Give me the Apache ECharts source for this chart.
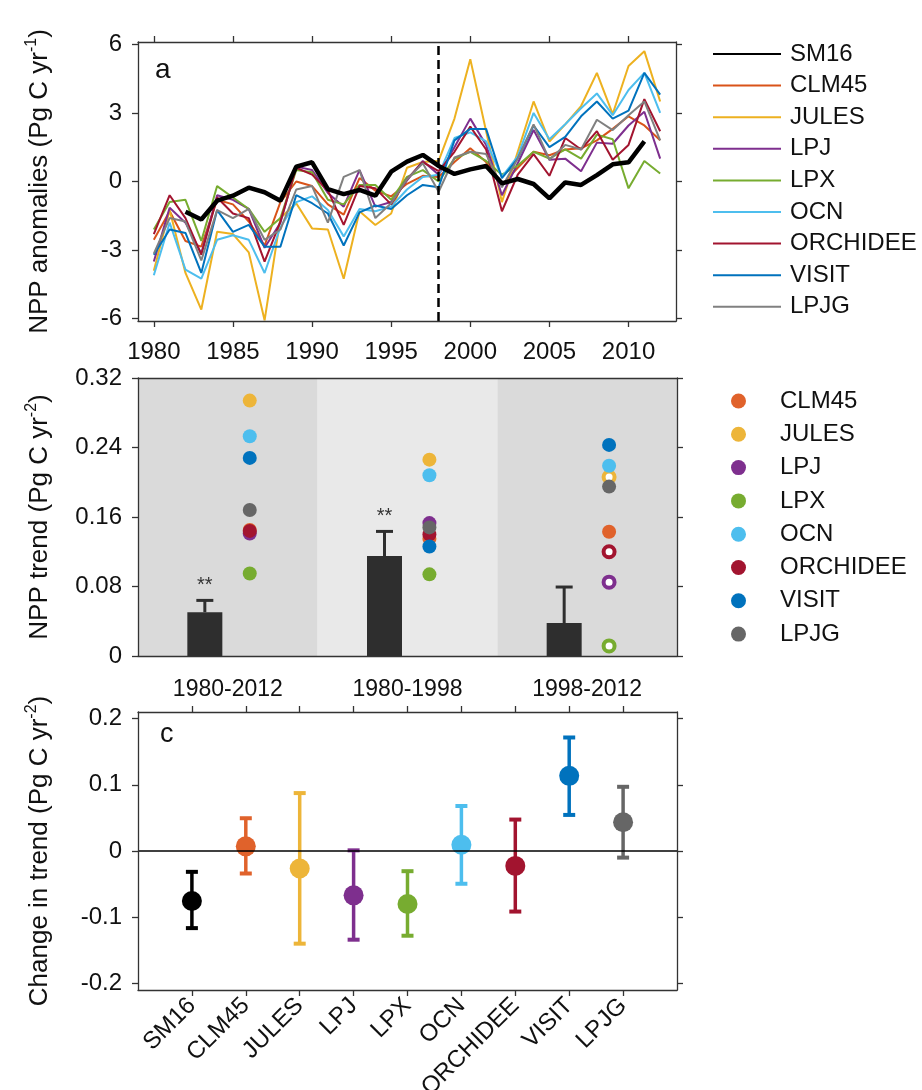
<!DOCTYPE html>
<html><head><meta charset="utf-8">
<script src="https://cdn.jsdelivr.net/npm/echarts@6/dist/echarts.min.js"></script>
<style>html,body{margin:0;padding:0;background:#fff}#c{width:922px;height:1090px}</style>
</head><body><div id="c"></div><script>
const FONT = '"Liberation Sans", Arial, sans-serif';

// ---------- Panel a data ----------
const years = [1980,1981,1982,1983,1984,1985,1986,1987,1988,1989,1990,1991,1992,1993,1994,1995,1996,1997,1998,1999,2000,2001,2002,2003,2004,2005,2006,2007,2008,2009,2010,2011,2012];
const smYears = [1982,1983,1984,1985,1986,1987,1988,1989,1990,1991,1992,1993,1994,1995,1996,1997,1998,1999,2000,2001,2002,2003,2004,2005,2006,2007,2008,2009,2010,2011];
const SM16 = [-1.32,-1.66,-0.84,-0.62,-0.27,-0.47,-0.84,0.65,0.84,-0.33,-0.55,-0.37,-0.62,0.43,0.87,1.16,0.68,0.33,0.53,0.68,-0.08,0.11,-0.11,-0.74,-0.04,-0.15,0.28,0.75,0.84,1.75];
const CLM45 = [-2.55,-1.3,-2.6,-2.85,-0.8,-1.0,-1.75,-2.8,-0.9,0.0,-0.2,-1.0,-1.45,0.15,-0.4,-0.65,-0.1,0.25,0.2,0.85,1.45,0.85,-0.15,0.6,1.3,1.15,1.4,1.45,1.8,2.3,2.85,2.45,1.8];
const JULES = [-3.9,-1.25,-4.0,-5.6,-2.2,-2.3,-3.1,-6.07,-1.6,-0.95,-2.05,-2.1,-4.25,-1.3,-1.9,-1.4,0.6,0.85,0.9,2.75,5.35,2.2,-0.9,1.3,3.5,1.75,2.5,3.3,4.75,2.95,5.05,5.7,3.5];
const LPJ = [-3.5,-1.15,-1.8,-3.15,-0.6,-0.8,-1.2,-2.9,-1.8,0.65,0.5,-0.5,-1.1,0.5,-1.1,-0.9,0.05,0.9,0.3,1.5,2.75,1.6,-0.6,0.8,2.25,0.95,1.0,0.45,1.7,1.65,2.45,3.05,1.0];
const LPX = [-2.1,-0.9,-0.8,-2.6,-0.2,-0.7,-1.2,-2.2,-1.6,0.5,0.4,-0.8,-1.0,-0.15,-0.15,-0.8,0.2,0.5,0.0,1.0,1.3,0.9,0.3,0.7,1.3,1.0,1.4,1.0,2.05,1.85,-0.3,0.9,0.35];
const OCN = [-4.1,-1.8,-3.85,-4.25,-2.55,-2.35,-2.55,-4.0,-2.0,-0.9,-0.65,-1.25,-2.4,-1.2,-1.3,-1.1,-0.35,0.2,0.3,1.9,2.15,1.75,0.2,1.1,3.0,1.85,2.5,3.2,3.85,2.9,4.0,4.75,3.0];
const ORCHIDEE = [-2.3,-0.6,-1.6,-3.2,-0.7,-1.4,-1.6,-3.5,-1.75,0.6,0.3,-0.4,-1.9,-0.2,-0.3,-1.0,0.1,0.85,0.45,1.3,2.4,1.4,-1.3,0.3,1.2,0.25,1.9,1.4,2.2,0.95,1.6,3.6,2.2];
const VISIT = [-3.2,-2.1,-2.25,-4.0,-1.25,-2.2,-1.9,-2.85,-2.85,-0.6,-0.95,-1.4,-2.8,-1.35,-1.05,-1.2,-0.6,-0.15,-0.25,1.8,2.3,2.3,0.15,1.0,2.45,1.5,1.95,2.85,3.5,2.75,3.1,4.75,3.8];
const LPJG = [-3.15,-1.6,-1.75,-3.45,-1.25,-1.6,-1.2,-2.55,-2.1,-0.35,-0.2,-1.8,0.2,0.5,-1.6,-0.95,0.1,0.8,-0.45,1.05,1.3,1.2,-0.25,1.0,2.5,0.95,1.6,1.4,2.7,2.25,2.9,3.5,1.8];
const xTicksA = [1980,1985,1990,1995,2000,2005,2010];
const yTicksA = [-6,-3,0,3,6];
const breakYear = 1998;

const modelNames = ['CLM45','JULES','LPJ','LPX','OCN','ORCHIDEE','VISIT','LPJG'];
const modelSeries = {CLM45, JULES, LPJ, LPX, OCN, ORCHIDEE, VISIT, LPJG};

// ---------- Panel b data ----------
const periods = ['1980-2012','1980-1998','1998-2012'];
const obsTrend = [0.0505, 0.115, 0.038];
const obsTrendUpper = [0.064, 0.1434, 0.0794];
const obsSig = ['**','**',''];
const trendCLM45 = [0.145, 0.135, 0.143];
const trendJULES = [0.294, 0.226, 0.206];
const trendLPJ = [0.141, 0.153, 0.085];
const trendLPX = [0.095, 0.094, 0.0116];
const trendOCN = [0.253, 0.208, 0.219];
const trendORCHIDEE = [0.144, 0.140, 0.120];
const trendVISIT = [0.228, 0.126, 0.243];
const trendLPJG = [0.168, 0.148, 0.195];
const sigCLM45 = [1,1,1], sigJULES = [1,1,0], sigLPJ = [1,1,0], sigLPX = [1,1,0],
      sigOCN = [1,1,1], sigORCHIDEE = [1,1,0], sigVISIT = [1,1,1], sigLPJG = [1,1,1];
const modelTrends = {CLM45:trendCLM45, JULES:trendJULES, LPJ:trendLPJ, LPX:trendLPX, OCN:trendOCN, ORCHIDEE:trendORCHIDEE, VISIT:trendVISIT, LPJG:trendLPJG};
const modelSigs = {CLM45:sigCLM45, JULES:sigJULES, LPJ:sigLPJ, LPX:sigLPX, OCN:sigOCN, ORCHIDEE:sigORCHIDEE, VISIT:sigVISIT, LPJG:sigLPJG};
const yTicksB = [0, 0.08, 0.16, 0.24, 0.32];

// ---------- Panel c data ----------
const changeCats = ['SM16','CLM45','JULES','LPJ','LPX','OCN','ORCHIDEE','VISIT','LPJG'];
const changeMean = [-0.0755, 0.007, -0.0265, -0.067, -0.080, 0.0095, -0.0225, 0.1135, 0.0435];
const changeHigh = [-0.0315, 0.0495, 0.0875, 0.001, -0.0305, 0.068, 0.0475, 0.1715, 0.097];
const changeLow  = [-0.1165, -0.034, -0.140, -0.134, -0.128, -0.0495, -0.0915, 0.0545, -0.010];
const xTicksC = [1,2,3,4,5,6,7,8,9];
const yTicksC = [-0.2,-0.1,0,0.1,0.2];

// ---------- styles ----------
const lineColors = {SM16:'#000000', CLM45:'#D95319', JULES:'#EDB120', LPJ:'#7E2F8E', LPX:'#77AC30', OCN:'#4DBEEE', ORCHIDEE:'#A2142F', VISIT:'#0072BD', LPJG:'#808080'};
const dotColors = {SM16:'#000000', CLM45:'#E0622B', JULES:'#EDB539', LPJ:'#7E2F8E', LPX:'#77AC30', OCN:'#4DBEEE', ORCHIDEE:'#A2142F', VISIT:'#0072BD', LPJG:'#666666'};
const AX = '#333';
const tickFont = {fontSize: 24, fontFamily: FONT, color: '#111'};

function nameRich(main, sup) {
  return '{n|' + main + '}{s|' + sup + '}{n|)}';
}
const nameStyle = {
  fontFamily: FONT, color: '#111',
  rich: {
    n: {fontSize: 26, fontFamily: FONT, color: '#111', lineHeight: 32},
    s: {fontSize: 16, fontFamily: FONT, color: '#111', lineHeight: 16, verticalAlign: 'top'}
  }
};

function boxX(gridIndex, min, max, pos, ticks, labels, extra) {
  return Object.assign({
    gridIndex, type: 'value', min, max, position: pos, z: 5,
    axisLine: {show: true, onZero: false, lineStyle: {color: AX, width: 1.3}},
    axisTick: {show: !!ticks, inside: false, length: 6, customValues: ticks || undefined, lineStyle: {color: AX, width: 1.3}},
    axisLabel: labels ? Object.assign({customValues: ticks, margin: 18}, tickFont, labels) : {show: false},
    splitLine: {show: false}
  }, extra || {});
}
function boxY(gridIndex, min, max, pos, ticks, labels, extra) {
  return Object.assign({
    gridIndex, type: 'value', min, max, position: pos, z: 5,
    axisLine: {show: true, onZero: false, lineStyle: {color: AX, width: 1.3}},
    axisTick: {show: !!ticks, inside: false, length: 6, customValues: ticks || undefined, lineStyle: {color: AX, width: 1.3}},
    axisLabel: labels ? Object.assign({customValues: ticks, margin: 16}, tickFont, labels) : {show: false},
    splitLine: {show: false}
  }, extra || {});
}

const xAxis = [
  // panel a
  boxX(0, 1979, 2013, 'bottom', xTicksA, {margin: 19, formatter: v => String(v)}),
  boxX(0, 1979, 2013, 'top', xTicksA, null),
  // panel b
  boxX(1, 0, 3, 'bottom', null, null, {
    axisLabel: Object.assign({show: true, customValues: [0.5,1.5,2.5], margin: 22,
      formatter: v => periods[Math.floor(v)] || ''}, tickFont, {fontSize: 23})
  }),
  boxX(1, 0, 3, 'top', null, null),
  // panel c
  boxX(2, 0, 10, 'bottom', xTicksC, {rotate: 45, margin: 12, fontSize: 24, formatter: v => changeCats[v - 1] || ''}),
  boxX(2, 0, 10, 'top', xTicksC, null)
];
const yAxis = [
  boxY(0, -6.1, 6.1, 'left', yTicksA, {}, {
    name: nameRich('NPP anomalies (Pg C yr', '-1'), nameLocation: 'middle', nameRotate: 90, nameGap: 82, nameTextStyle: nameStyle
  }),
  boxY(0, -6.1, 6.1, 'right', yTicksA, null),
  boxY(1, 0, 0.32, 'left', yTicksB, {formatter: v => (v === 0 ? '0' : v.toFixed(2))}, {
    name: nameRich('NPP trend (Pg C yr', '-2'), nameLocation: 'middle', nameRotate: 90, nameGap: 82, nameTextStyle: nameStyle
  }),
  boxY(1, 0, 0.32, 'right', yTicksB, null),
  boxY(2, -0.21, 0.21, 'left', yTicksC, {formatter: v => (Math.abs(v) < 1e-9 ? '0' : String(+v.toFixed(1)))}, {
    name: nameRich('Change in trend (Pg C yr', '-2'), nameLocation: 'middle', nameRotate: 90, nameGap: 82, nameTextStyle: nameStyle
  }),
  boxY(2, -0.21, 0.21, 'right', yTicksC, null)
];

const series = [];
// Panel a lines
modelNames.forEach(m => {
  series.push({
    type: 'line', name: m, xAxisIndex: 0, yAxisIndex: 0,
    data: years.map((y, i) => [y, modelSeries[m][i]]),
    symbol: 'none', lineStyle: {color: lineColors[m], width: 2}, itemStyle: {color: lineColors[m]},
    z: 2, silent: true
  });
});
series.push({
  type: 'line', name: 'SM16', xAxisIndex: 0, yAxisIndex: 0,
  data: smYears.map((y, i) => [y, SM16[i]]),
  symbol: 'none', lineStyle: {color: '#000', width: 4.5}, itemStyle: {color: '#000'}, z: 3, silent: true,
  markLine: {silent: true, symbol: ['none','none'], label: {show: false},
    lineStyle: {color: '#000', width: 2.5, type: [9, 5]}, data: [{xAxis: breakYear}]}
});

// Panel b background bands
series.push({
  type: 'custom', xAxisIndex: 2, yAxisIndex: 2, z: 1, silent: true,
  data: periods.map((p, i) => [i, i + 1]),
  renderItem: (params, api) => {
    const p0 = api.coord([api.value(0), 0.32]);
    const p1 = api.coord([api.value(1), 0]);
    return {type: 'rect', shape: {x: p0[0], y: p0[1], width: p1[0] - p0[0], height: p1[1] - p0[1]},
      style: {fill: params.dataIndex % 2 ? '#e9e9e9' : '#dadada'}};
  }
});
// Panel b observation bars + error
series.push({
  type: 'custom', xAxisIndex: 2, yAxisIndex: 2, z: 2, silent: true,
  data: periods.map((p, i) => [i + 0.372, obsTrend[i], obsTrendUpper[i]]),
  renderItem: (params, api) => {
    const x = api.value(0);
    const top = api.coord([x, api.value(1)]);
    const base = api.coord([x, 0]);
    const err = api.coord([x, api.value(2)]);
    const w = 35, cap = 8.5, col = '#2e2e2e';
    return {type: 'group', children: [
      {type: 'rect', shape: {x: top[0] - w / 2, y: top[1], width: w, height: base[1] - top[1]}, style: {fill: col}},
      {type: 'line', shape: {x1: top[0], y1: top[1], x2: err[0], y2: err[1]}, style: {stroke: col, lineWidth: 3}},
      {type: 'line', shape: {x1: err[0] - cap, y1: err[1], x2: err[0] + cap, y2: err[1]}, style: {stroke: col, lineWidth: 3}},
      {type: 'text', x: err[0], y: err[1] - 5, style: {text: obsSig[params.dataIndex], align: 'center', verticalAlign: 'bottom', font: '20px ' + FONT, fill: '#333'}}
    ]};
  }
});
// Panel b model dots
modelNames.forEach(m => {
  series.push({
    type: 'scatter', name: m, xAxisIndex: 2, yAxisIndex: 2, z: 3, silent: true,
    data: periods.map((p, i) => modelSigs[m][i]
      ? {value: [i + 0.622, modelTrends[m][i]], symbolSize: 14, itemStyle: {color: dotColors[m], opacity: 1}}
      : {value: [i + 0.622, modelTrends[m][i]], symbolSize: 11, itemStyle: {color: '#ffffff', borderColor: dotColors[m], borderWidth: 4, opacity: 1}})
  });
});

// Panel c zero line
series.push({
  type: 'scatter', name: '_zero', xAxisIndex: 4, yAxisIndex: 4, z: 1, silent: true,
  data: [[0, 0]], symbolSize: 0,
  markLine: {silent: true, symbol: ['none','none'], label: {show: false}, lineStyle: {color: '#000', width: 1.5, type: 'solid'}, data: [{yAxis: 0}]}
});
// Panel c error bars
series.push({
  type: 'custom', name: '_err', xAxisIndex: 4, yAxisIndex: 4, z: 2, silent: true,
  data: changeCats.map((c, i) => [i + 1, changeLow[i], changeHigh[i]]),
  renderItem: (params, api) => {
    const x = api.value(0);
    const lo = api.coord([x, api.value(1)]);
    const hi = api.coord([x, api.value(2)]);
    const col = dotColors[changeCats[params.dataIndex]];
    const cap = 6;
    return {type: 'group', children: [
      {type: 'line', shape: {x1: lo[0], y1: lo[1], x2: hi[0], y2: hi[1]}, style: {stroke: col, lineWidth: 3.5}},
      {type: 'line', shape: {x1: lo[0] - cap, y1: lo[1], x2: lo[0] + cap, y2: lo[1]}, style: {stroke: col, lineWidth: 4}},
      {type: 'line', shape: {x1: hi[0] - cap, y1: hi[1], x2: hi[0] + cap, y2: hi[1]}, style: {stroke: col, lineWidth: 4}}
    ]};
  }
});
// Panel c dots
series.push({
  type: 'scatter', name: '_mean', xAxisIndex: 4, yAxisIndex: 4, z: 3, silent: true,
  symbolSize: 20,
  data: changeCats.map((c, i) => ({value: [i + 1, changeMean[i]], itemStyle: {color: dotColors[c], opacity: 1}}))
});

const option = {
  animation: false,
  backgroundColor: '#ffffff',
  textStyle: {fontFamily: FONT},
  grid: [
    {left: 138, top: 42, width: 538, height: 279, outerBoundsMode: 'none', containLabel: false},
    {left: 138, top: 378, width: 539, height: 278, outerBoundsMode: 'none', containLabel: false},
    {left: 138, top: 712, width: 539, height: 278, outerBoundsMode: 'none', containLabel: false}
  ],
  xAxis, yAxis, series,
  legend: [
    {
      data: ['SM16'].concat(modelNames), orient: 'vertical', left: 712, top: 42, padding: 0,
      itemWidth: 68, itemHeight: 14, itemGap: 7.6, selectedMode: false,
      itemStyle: {opacity: 0},
      textStyle: {fontSize: 24, fontFamily: FONT, color: '#111', lineHeight: 24, padding: [0, 0, 0, 4]}
    },
    {
      data: modelNames.map(m => ({name: m, icon: 'circle', itemStyle: {color: dotColors[m], borderWidth: 0, opacity: 1}})),
      orient: 'vertical', left: 731, top: 389, padding: 0,
      itemWidth: 15, itemHeight: 15, itemGap: 9.3, selectedMode: false,
      textStyle: {fontSize: 24, fontFamily: FONT, color: '#111', lineHeight: 24, padding: [0, 0, 0, 29]}
    }
  ],
  graphic: [
    {type: 'text', left: 155, top: 56, style: {text: 'a', font: '28px ' + FONT, fill: '#111'}},
    {type: 'text', left: 157, top: 392, style: {text: 'b', font: '28px ' + FONT, fill: '#111'}},
    {type: 'text', left: 160, top: 721, style: {text: 'c', font: '27px ' + FONT, fill: '#111'}}
  ]
};

const chart = echarts.init(document.getElementById('c'), null, {renderer: 'canvas'});
chart.setOption(option);
</script></body></html>
